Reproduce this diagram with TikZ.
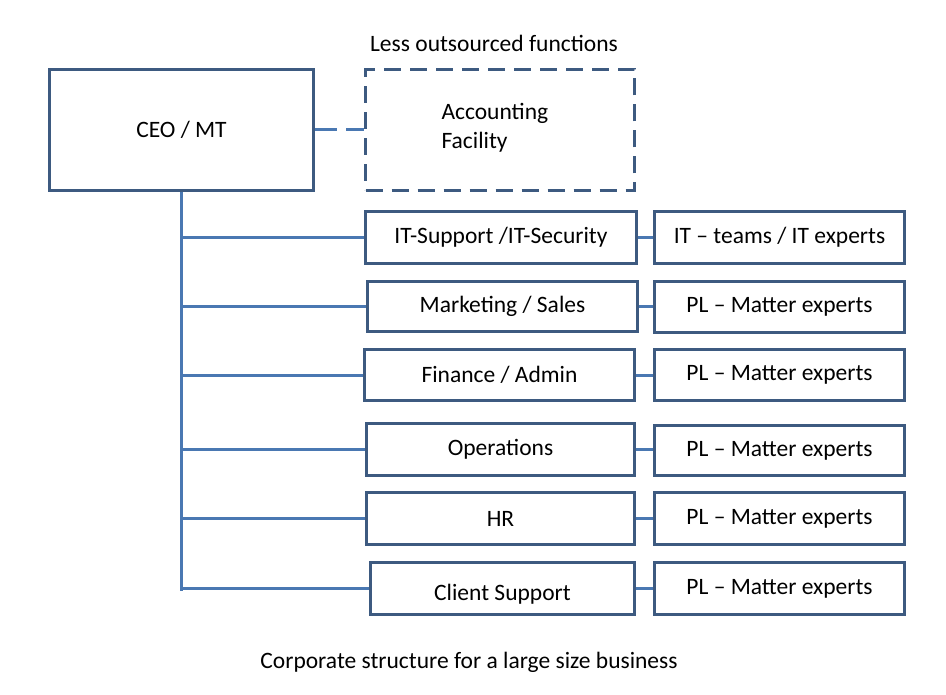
\documentclass[tikz,border=0pt]{standalone}
\usepackage{fontspec}
\setmainfont{Carlito}
\definecolor{boxc}{HTML}{3D5A80}
\definecolor{linec}{HTML}{4A78B2}
\tikzset{
  x=1pt, y=-1pt,
  box/.style={draw=boxc, line width=3pt, fill=white, inner sep=0pt, anchor=north west, font=\fontsize{23.5}{28}\selectfont},
  dbox/.style={box, dash pattern=on 17pt off 9pt},
  conn/.style={draw=linec, line width=3pt},
  lbl/.style={font=\fontsize{23.5}{28}\selectfont},
}
\begin{document}
\begin{tikzpicture}
\useasboundingbox (0,0) rectangle (946,695);
\fill[white] (0,0) rectangle (946,695);
% top
\node[lbl] (title) at (494,43) {Less outsourced functions};
\node[box, minimum width=264pt, minimum height=121pt] (ceo) at (48,68) {CEO / MT};
\node[dbox, minimum width=269pt, minimum height=121pt] (acc) at (364,68) {};
\node[lbl, anchor=west, align=left, font=\fontsize{23.5}{29}\selectfont] (acct) at (438,128) {Accounting\\Facility};
\draw[conn, dash pattern=on 22pt off 9pt] (ceo.east) -- (acc.west);
% middle boxes
\node[box, minimum width=271pt, minimum height=52pt] (m1) at (364,210) {IT-Support /IT-Security};
\node[box, minimum width=270pt, minimum height=50pt] (m2) at (366,280) {Marketing / Sales};
\node[box, minimum width=270pt, minimum height=51pt] (m3) at (363,348) {Finance / Admin};
\node[box, minimum width=268pt, minimum height=52pt] (m4) at (365,422) {Operations};
\node[box, minimum width=268pt, minimum height=52pt] (m5) at (365,491) {HR};
\node[box, minimum width=264pt, minimum height=52pt] (m6) at (369,561) {\raisebox{-12pt}[0pt][0pt]{Client Support}};
% right boxes
\node[box, minimum width=250pt, minimum height=52pt] (r1) at (653,210) {IT -- teams / IT experts};
\node[box, minimum width=250pt, minimum height=51pt] (r2) at (653,280) {PL -- Matter experts};
\node[box, minimum width=250pt, minimum height=51pt] (r3) at (653,348) {PL -- Matter experts};
\node[box, minimum width=250pt, minimum height=50pt] (r4) at (653,424) {PL -- Matter experts};
\node[box, minimum width=250pt, minimum height=52pt] (r5) at (653,491) {PL -- Matter experts};
\node[box, minimum width=250pt, minimum height=52pt] (r6) at (653,561) {PL -- Matter experts};
% trunk
\coordinate (tb) at (181,591);
\draw[conn] (ceo.south -| tb) -- (tb);
\foreach \i in {1,...,6}{
  \draw[conn] (m\i.west -| tb) -- (m\i.west);
  \draw[conn] (m\i.east) -- (r\i.west |- m\i.east);
}
% caption
\node[lbl] (cap) at (469,662) {Corporate structure for a large size business};
\end{tikzpicture}
\end{document}
